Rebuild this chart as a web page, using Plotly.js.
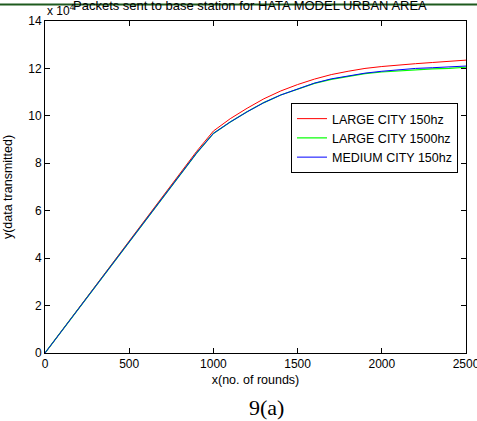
<!DOCTYPE html>
<html>
<head>
<meta charset="utf-8">
<script src="https://cdn.plot.ly/plotly-3.0.1.min.js"></script>
<style>html,body{margin:0;padding:0;background:#fff;}#chart{width:477px;height:421px;}</style>
</head>
<body>
<div id="chart"></div>
<script>
var rounds = [0,100,200,300,400,500,600,700,800,900,1000,1100,1200,1300,1400,1500,1600,1700,1800,1900,2000,2100,2200,2300,2400,2500];
var largeCity150 = [0,0.95,1.9,2.85,3.8,4.75,5.7,6.62,7.56,8.5,9.36,9.88,10.32,10.72,11.05,11.32,11.55,11.74,11.88,12.0,12.08,12.15,12.2,12.25,12.29,12.35];
var largeCity1500 = [0,0.94,1.88,2.82,3.76,4.7,5.64,6.56,7.5,8.43,9.26,9.74,10.17,10.56,10.88,11.13,11.37,11.54,11.67,11.78,11.85,11.9,11.95,11.98,12.0,12.05];
var mediumCity150 = [0,0.94,1.88,2.82,3.76,4.7,5.64,6.56,7.5,8.43,9.26,9.74,10.17,10.56,10.88,11.14,11.38,11.56,11.69,11.8,11.88,11.95,12.0,12.03,12.06,12.1];
var seriesNames = ["LARGE CITY 150hz","LARGE CITY 1500hz","MEDIUM CITY 150hz"];
var xTicks = [0,500,1000,1500,2000,2500];
var yTicks = [0,2,4,6,8,10,12,14];

var font = "Liberation Sans, Arial, sans-serif";
var traces = [
  {x: rounds, y: largeCity150, name: seriesNames[0], mode: "lines", line: {color: "#ff0000", width: 1}},
  {x: rounds, y: largeCity1500, name: seriesNames[1], mode: "lines", line: {color: "#00ff00", width: 1.2}},
  {x: rounds, y: mediumCity150, name: seriesNames[2], mode: "lines", line: {color: "#0000ff", width: 1}}
];
var axisCommon = {
  showgrid: false, zeroline: false, showline: true, mirror: "ticks",
  linecolor: "#000", linewidth: 1, ticks: "inside", ticklen: 5, tickcolor: "#000",
  ticklabeloverflow: "allow",
  tickfont: {family: font, size: 12, color: "#000"}
};
var layout = {
  width: 477, height: 421,
  margin: {l: 45, r: 11, t: 21, b: 68},
  paper_bgcolor: "#fff", plot_bgcolor: "#fff",
  showlegend: true,
  legend: {x: 0.981, xanchor: "right", y: 0.753, yanchor: "top",
    bgcolor: "#fff", bordercolor: "#000", borderwidth: 1, itemwidth: 30,
    font: {family: font, size: 12.5, color: "#000"}, tracegroupgap: 0},
  xaxis: Object.assign({}, axisCommon, {range: [0, 2500], tickvals: xTicks, ticktext: xTicks.map(String),
    title: {text: "x(no. of rounds)", font: {family: font, size: 12.5, color: "#000"}, standoff: 4}}),
  yaxis: Object.assign({}, axisCommon, {range: [0, 14], tickvals: yTicks, ticktext: yTicks.map(String),
    title: {text: "y(data transmitted)", font: {family: font, size: 12.5, color: "#000"}, standoff: 12}}),
  annotations: [
    {text: "Packets sent to base station for HATA MODEL URBAN AREA", xref: "paper", yref: "paper",
     x: 0.487, y: 1, yshift: 15.5, xanchor: "center", yanchor: "middle", showarrow: false,
     font: {family: font, size: 13, color: "#000"}},
    {text: "x 10<sup>4</sup>", xref: "paper", yref: "paper", x: 0, y: 1, yshift: 11, xanchor: "left", yanchor: "middle",
     showarrow: false, font: {family: font, size: 12, color: "#000"}},
    {text: "9(a)", xref: "paper", yref: "paper", x: 0.527, y: 0, yshift: -54, xanchor: "center", yanchor: "middle",
     showarrow: false, font: {family: "Liberation Serif, Times New Roman, serif", size: 22, color: "#000"}}
  ],
  shapes: [
    {type: "line", xref: "paper", yref: "paper", x0: -0.2, x1: 1.2, ysizemode: "pixel", yanchor: 1,
     y0: 16.5, y1: 16.5, layer: "above", line: {color: "#1e5a1e", width: 2}}
  ]
};
Plotly.newPlot("chart", traces, layout, {displayModeBar: false, staticPlot: true});
</script>
</body>
</html>
